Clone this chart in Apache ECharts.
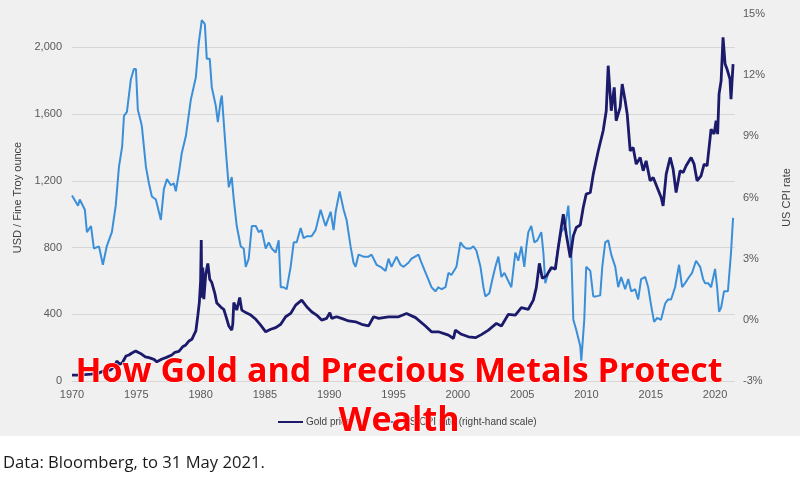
<!DOCTYPE html>
<html>
<head>
<meta charset="utf-8">
<script src="https://cdn.jsdelivr.net/npm/echarts@6/dist/echarts.min.js"></script>
<style>
html,body{margin:0;padding:0;background:#fff;}
#c{width:800px;height:482px;}
</style>
</head>
<body>
<div id="c"></div>
<script>
// ---- Data ----
var xTickYears = [1970, 1975, 1980, 1985, 1990, 1995, 2000, 2005, 2010, 2015, 2020];

var goldYears = [1970.0, 1970.5, 1971.0, 1971.5, 1972.0, 1972.4, 1972.7, 1973.0, 1973.3, 1973.5, 1973.7, 1973.9,
  1974.2, 1974.43, 1974.66, 1974.95, 1975.2, 1975.43, 1975.7, 1975.98, 1976.37, 1976.6, 1976.75, 1977.0, 1977.3,
  1977.76, 1978.0, 1978.31, 1978.6, 1978.85, 1979.1, 1979.32, 1979.5, 1979.63, 1979.78, 1979.9, 1980.0, 1980.05,
  1980.09, 1980.17, 1980.25, 1980.4, 1980.56, 1980.71, 1980.87, 1981.1, 1981.26, 1981.57, 1981.8, 1981.96, 1982.19,
  1982.42, 1982.5, 1982.58, 1982.81, 1983.04, 1983.2, 1983.51, 1983.9, 1984.29, 1984.67, 1985.06, 1985.45, 1985.84,
  1986.23, 1986.61, 1987.0, 1987.39, 1987.86, 1988.25, 1988.63, 1989.02, 1989.41, 1989.8, 1990.05, 1990.19, 1990.57,
  1990.96, 1991.51, 1992.05, 1992.52, 1993.06, 1993.45, 1993.84, 1994.61, 1995.39, 1996.01, 1996.71, 1997.48, 1997.95,
  1998.49, 1999.27, 1999.66, 1999.81, 2000.28, 2000.82, 2001.37, 2001.83, 2002.38, 2003.0, 2003.39, 2003.93, 2004.47,
  2004.94, 2005.48, 2005.87, 2006.1, 2006.34, 2006.57, 2006.88, 2007.27, 2007.58, 2007.81, 2008.04, 2008.2, 2008.43,
  2008.74, 2008.98, 2009.21, 2009.52, 2009.75, 2009.98, 2010.3, 2010.53, 2010.92, 2011.3, 2011.54, 2011.69, 2011.93,
  2012.16, 2012.31, 2012.62, 2012.78, 2013.01, 2013.17, 2013.4, 2013.63, 2013.87, 2014.18, 2014.41, 2014.64, 2014.95,
  2015.19, 2015.5, 2015.81, 2015.96, 2016.2, 2016.51, 2016.74, 2016.97, 2017.28, 2017.52, 2017.75, 2018.14, 2018.37,
  2018.6, 2018.91, 2019.15, 2019.38, 2019.69, 2019.92, 2020.08, 2020.2, 2020.31, 2020.47, 2020.62, 2020.78, 2020.93,
  2021.16, 2021.24, 2021.4];
var goldPrice = [35, 36, 38, 41, 46, 58, 65, 65, 90, 120, 100, 108,
  150, 156, 168, 180, 170, 160, 145, 140, 130, 115, 120, 132, 140,
  156, 172, 178, 205, 216, 240, 250, 280, 300, 390, 470, 600, 845,
  500, 680, 490, 640, 705, 610, 590, 527, 467, 443, 430, 390, 330,
  305, 340, 470, 425, 500, 425, 410, 395, 370, 335, 295, 310, 320,
  340, 385, 405, 455, 485, 445, 415, 395, 365, 375, 410, 375, 385,
  375, 360, 355, 340, 330, 385, 375, 385, 385, 405, 380, 330, 295,
  295, 275, 255, 305, 280, 265, 260, 278, 305, 345, 330, 400, 395,
  440, 430, 485, 560, 705, 615, 630, 680, 670, 800, 920, 1000, 880,
  740, 870, 920, 935, 1040, 1120, 1130, 1240, 1380, 1500, 1620, 1890, 1620,
  1760, 1560, 1640, 1780, 1680, 1600, 1380, 1400, 1300, 1340, 1260, 1320, 1200,
  1220, 1160, 1100, 1050, 1240, 1340, 1270, 1130, 1260, 1250, 1290, 1340, 1300,
  1200, 1230, 1300, 1290, 1510, 1480, 1560, 1480, 1720, 1800, 2060, 1900, 1870,
  1810, 1690, 1900];

var cpiYears = [1970.0, 1970.47, 1970.6, 1971.0, 1971.16, 1971.48, 1971.7, 1972.1, 1972.4, 1972.7, 1973.1, 1973.4,
  1973.65, 1973.9, 1974.04, 1974.27, 1974.58, 1974.81, 1974.97, 1975.12, 1975.36, 1975.43, 1975.75, 1975.98, 1976.21,
  1976.52, 1976.91, 1977.14, 1977.38, 1977.69, 1977.92, 1978.07, 1978.31, 1978.54, 1978.85, 1979.24, 1979.63, 1979.86,
  1980.09, 1980.33, 1980.48, 1980.71, 1980.87, 1981.18, 1981.34, 1981.57, 1981.65, 1981.96, 1982.19, 1982.42, 1982.58,
  1982.81, 1983.12, 1983.35, 1983.51, 1983.74, 1983.98, 1984.29, 1984.52, 1984.75, 1985.06, 1985.3, 1985.53, 1985.84,
  1986.07, 1986.23, 1986.46, 1986.69, 1987.0, 1987.24, 1987.47, 1987.78, 1988.01, 1988.25, 1988.63, 1988.94, 1989.33,
  1989.57, 1989.72, 1990.11, 1990.34, 1990.5, 1990.81, 1991.12, 1991.35, 1991.66, 1991.89, 1992.05, 1992.28, 1992.67,
  1993.06, 1993.29, 1993.68, 1993.99, 1994.38, 1994.61, 1994.84, 1995.23, 1995.54, 1995.78, 1996.16, 1996.4, 1996.94,
  1997.17, 1997.56, 1997.95, 1998.26, 1998.49, 1998.73, 1999.04, 1999.27, 1999.5, 1999.89, 2000.2, 2000.43, 2000.67,
  2000.98, 2001.21, 2001.44, 2001.76, 2001.99, 2002.14, 2002.45, 2002.69, 2002.92, 2003.15, 2003.39, 2003.62, 2003.85,
  2004.16, 2004.47, 2004.7, 2004.94, 2005.17, 2005.33, 2005.48, 2005.71, 2005.95, 2006.18, 2006.49, 2006.65, 2006.8,
  2007.03, 2007.27, 2007.58, 2007.81, 2008.04, 2008.35, 2008.59, 2008.82, 2008.98, 2009.21, 2009.52, 2009.6, 2009.83,
  2009.98, 2010.3, 2010.53, 2010.76, 2011.07, 2011.23, 2011.46, 2011.69, 2011.93, 2012.24, 2012.47, 2012.7, 2013.01,
  2013.25, 2013.48, 2013.79, 2014.02, 2014.25, 2014.57, 2014.8, 2015.03, 2015.26, 2015.5, 2015.8, 2016.12, 2016.35,
  2016.58, 2016.89, 2017.2, 2017.44, 2017.67, 2017.98, 2018.21, 2018.52, 2018.84, 2019.07, 2019.22, 2019.46, 2019.69,
  2020.0, 2020.16, 2020.31, 2020.47, 2020.7, 2020.85, 2021.0, 2021.24, 2021.4];
var cpiRate = [6.1, 5.6, 5.9, 5.4, 4.3, 4.6, 3.5, 3.6, 2.7, 3.6, 4.3, 5.6,
  7.5, 8.5, 10.0, 10.2, 11.8, 12.3, 12.3, 10.3, 9.7, 9.5, 7.5, 6.7, 6.05,
  5.9, 4.9, 6.4, 6.9, 6.6, 6.7, 6.3, 7.2, 8.2, 9.0, 10.8, 11.9, 13.6,
  14.7, 14.5, 12.8, 12.8, 11.4, 10.5, 9.7, 10.8, 11.0, 8.3, 6.5, 7.0, 5.9,
  4.6, 3.6, 3.5, 2.6, 3.0, 4.6, 4.6, 4.3, 4.4, 3.5, 3.8, 3.5, 3.3,
  3.9, 1.6, 1.6, 1.5, 2.6, 3.8, 3.8, 4.5, 4.0, 4.1, 4.1, 4.4, 5.4,
  4.9, 4.6, 5.3, 4.4, 5.3, 6.3, 5.4, 4.9, 3.6, 2.8, 2.6, 3.2, 3.1,
  3.1, 3.2, 2.7, 2.6, 2.4, 3.0, 2.6, 3.1, 2.7, 2.6, 2.8, 3.0, 3.2,
  2.8, 2.2, 1.6, 1.4, 1.6, 1.5, 1.6, 2.3, 2.2, 2.6, 3.8, 3.6, 3.5,
  3.5, 3.6, 3.4, 2.6, 1.6, 1.15, 1.3, 2.0, 2.6, 3.1, 2.1, 2.3, 2.0,
  1.6, 3.3, 2.9, 3.6, 2.6, 3.6, 4.3, 4.6, 3.8, 3.9, 4.3, 3.3, 1.8,
  2.3, 2.5, 2.6, 3.6, 4.3, 4.6, 5.6, 3.3, 0.0, -0.5, -1.3, -2.0, 0.0,
  2.6, 2.4, 1.15, 1.15, 1.2, 2.6, 3.8, 3.9, 3.2, 2.6, 1.6, 2.1, 1.5,
  2.0, 1.4, 1.5, 1.0, 2.0, 2.1, 1.6, 0.7, -0.1, 0.1, 0.0, 0.8, 1.0,
  1.0, 1.6, 2.7, 1.6, 1.8, 2.1, 2.3, 2.9, 2.6, 2.0, 1.8, 1.8, 1.6,
  2.5, 1.6, 0.4, 0.6, 1.4, 1.4, 1.4, 3.3, 5.0];

var leftTicks = [0, 400, 800, 1200, 1600, 2000];
var rightTicks = [-3, 0, 3, 6, 9, 12, 15];

var goldName = 'Gold price';
var cpiName = 'US CPI rate (right-hand scale)';
var titleText = 'How Gold and Precious Metals Protect\nWealth';
var sourceText = 'Data: Bloomberg, to 31 May 2021.';

// ---- Build series data ----
function zip(a, b) { var o = []; for (var i = 0; i < a.length; i++) o.push([a[i], b[i]]); return o; }

var chart = echarts.init(document.getElementById('c'), null, {renderer: 'canvas'});
var tickFont = {fontFamily: 'Liberation Sans', fontSize: 11, color: '#595959'};

chart.setOption({
  backgroundColor: '#ffffff',
  animation: false,
  graphic: [
    {type: 'rect', z: -100, shape: {x: 0, y: 0, width: 800, height: 436}, style: {fill: '#f0f0f0'}},
    {type: 'text', x: 3, y: 455, style: {text: sourceText, font: '16.6px "Open Sans"', fill: '#1a1a1a'}},
    {type: 'text', x: 399, y: 348, z: 100,
      style: {text: titleText, textAlign: 'center', font: 'bold 34px "Open Sans"', lineHeight: 49,
        fill: '#ff0000', stroke: '#ffffff', lineWidth: 1.2}}
  ],
  legend: {
    left: 273, top: 412,
    itemWidth: 25, itemHeight: 2, itemGap: 23,
    icon: 'rect',
    data: [goldName, cpiName],
    textStyle: {fontFamily: 'Liberation Sans', fontSize: 10, color: '#404040', padding: [0, 0, 0, -2]}
  },
  grid: {left: 72, right: 63, top: 14, bottom: 101},
  xAxis: {
    type: 'value', min: 1970, max: 2021.55, interval: 5,
    axisLine: {show: false}, axisTick: {show: false}, splitLine: {show: false},
    axisLabel: Object.assign({margin: 8, showMaxLabel: false, formatter: function (v) {
      return xTickYears.indexOf(v) >= 0 ? String(v) : '';
    }}, tickFont)
  },
  yAxis: [
    {
      type: 'value', min: 0, max: 2200, interval: 400, position: 'left',
      name: 'USD / Fine Troy ounce', nameLocation: 'middle', nameGap: 48, nameRotate: 90,
      nameTextStyle: {fontFamily: 'Liberation Sans', fontSize: 11, color: '#404040'},
      axisLine: {show: false}, axisTick: {show: false},
      splitLine: {show: true, showMaxLine: false, lineStyle: {color: '#d6d6d6', width: 1}},
      axisLabel: Object.assign({margin: 10, showMaxLabel: false, formatter: function (v) {
        return leftTicks.indexOf(v) >= 0 ? v.toLocaleString('en-US') : '';
      }}, tickFont)
    },
    {
      type: 'value', min: -3, max: 15, interval: 3, position: 'right',
      name: 'US CPI rate', nameLocation: 'middle', nameGap: 46, nameRotate: 90,
      nameTextStyle: {fontFamily: 'Liberation Sans', fontSize: 11, color: '#404040'},
      axisLine: {show: false}, axisTick: {show: false}, splitLine: {show: false},
      axisLabel: Object.assign({margin: 8, formatter: function (v) {
        return rightTicks.indexOf(v) >= 0 ? v + '%' : '';
      }}, tickFont)
    }
  ],
  series: [
    {
      name: cpiName, type: 'line', yAxisIndex: 1, showSymbol: false, z: 2,
      color: '#3b8fd9', lineStyle: {color: '#3b8fd9', width: 2},
      data: zip(cpiYears, cpiRate)
    },
    {
      name: goldName, type: 'line', yAxisIndex: 0, showSymbol: false, z: 3,
      color: '#1b1a6b', lineStyle: {color: '#1b1a6b', width: 2.8},
      data: zip(goldYears, goldPrice)
    }
  ]
});
</script>
</body>
</html>
